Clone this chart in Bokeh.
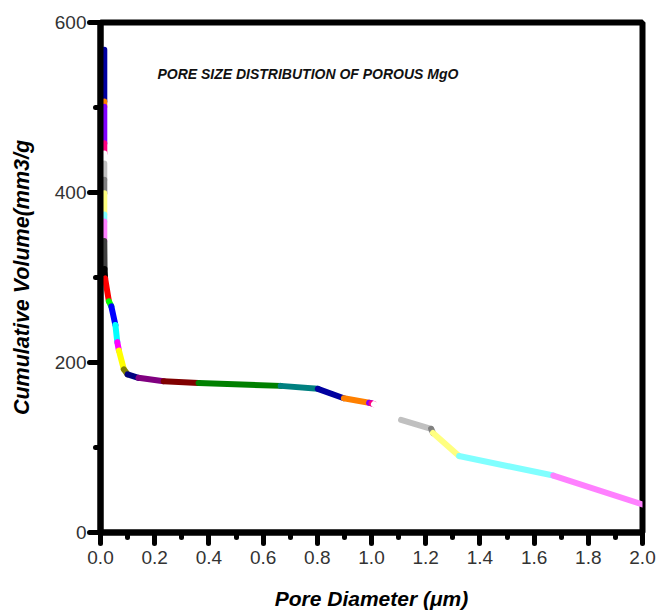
from bokeh.plotting import figure
from bokeh.models import Range1d, SingleIntervalTicker, PrintfTickFormatter, Label, ColumnDataSource
from bokeh.embed import file_html
from bokeh.resources import INLINE

# Data (pore diameter in um, cumulative volume in mm3/g)
pore_diameter = [0.014, 0.014, 0.014, 0.014, 0.014, 0.014, 0.014, 0.014, 0.014, 0.014,
                 0.014, 0.015, 0.017, 0.031, 0.040, 0.055, 0.062, 0.068, 0.086, 0.100,
                 0.140, 0.233, 0.362, 0.665, 0.802, 0.898, 0.991, 1.000, 1.009, 1.109,
                 1.220, 1.227, 1.323, 1.671, 2.000]
cumulative_volume = [568, 507, 501, 458, 446, 434, 415, 399, 374, 366,
                     343, 310, 299, 272, 266, 244, 224, 214, 192, 186,
                     182, 178, 176, 172.5, 169, 158, 152.6, 152, 151, 132.6,
                     122, 117, 90, 67, 33]

# Origin default colour cycle
origin_palette = ["#000000", "#FF0000", "#00FF00", "#0000FF", "#00FFFF", "#FF00FF",
                  "#FFFF00", "#808000", "#000080", "#800080", "#800000", "#008000",
                  "#008080", "#0000A0", "#FF8000", "#8000FF", "#FF0080", "#FFFFFF",
                  "#C0C0C0", "#808080", "#FFFF80", "#80FFFF", "#FF80FF", "#404040"]
start_color = 13

x_label = "Pore Diameter (\u03bcm)"
y_label = "Cumulative Volume(mm3/g"
chart_note = "PORE SIZE DISTRIBUTION OF POROUS MgO"

n = len(pore_diameter)
src = ColumnDataSource(dict(
    x0=pore_diameter[:-1], y0=cumulative_volume[:-1],
    x1=pore_diameter[1:], y1=cumulative_volume[1:],
    color=[origin_palette[(start_color + i) % len(origin_palette)] for i in range(n - 1)],
))

p = figure(width=657, height=614, output_backend="svg", toolbar_location=None,
           x_range=Range1d(0, 2.0), y_range=Range1d(0, 600),
           min_border_left=100, min_border_right=15, min_border_top=22, min_border_bottom=82)
p.xgrid.visible = False
p.ygrid.visible = False
p.background_fill_color = "white"
p.border_fill_color = "white"
p.outline_line_color = "black"
p.outline_line_width = 6
p.outline_line_alpha = 1.0

p.segment(x0="x0", y0="y0", x1="x1", y1="y1", line_color="color", line_width=6,
          line_cap="round", source=src)

p.xaxis.ticker = SingleIntervalTicker(interval=0.2, num_minor_ticks=2)
p.yaxis.ticker = SingleIntervalTicker(interval=200, num_minor_ticks=2)
p.xaxis.formatter = PrintfTickFormatter(format="%.1f")
p.yaxis.formatter = PrintfTickFormatter(format="%d")

for ax in (p.xaxis[0], p.yaxis[0]):
    ax.axis_line_width = 6
    ax.axis_line_color = "black"
    ax.major_tick_line_width = 5
    ax.major_tick_line_color = "black"
    ax.major_tick_out = 11
    ax.major_tick_in = 0
    ax.minor_tick_line_width = 5
    ax.minor_tick_line_color = "black"
    ax.minor_tick_out = 5
    ax.minor_tick_in = 0
    ax.major_tick_line_cap = "round"
    ax.minor_tick_line_cap = "round"
    ax.major_label_text_font = "Liberation Sans"
    ax.major_label_text_font_size = "19px"
    ax.major_label_text_color = "#333333"
    ax.axis_label_text_font = "Liberation Sans"
    ax.axis_label_text_font_style = "bold italic"
    ax.axis_label_text_color = "black"

p.xaxis.axis_label = x_label
p.yaxis.axis_label = y_label
p.xaxis.axis_label_text_font_size = "21px"
p.yaxis.axis_label_text_font_size = "21.5px"
p.xaxis.major_label_standoff = 7
p.yaxis.major_label_standoff = 3
p.xaxis.axis_label_standoff = 20
p.yaxis.axis_label_standoff = 18

note = Label(x=0.21, y=540, text=chart_note, text_font="Liberation Sans",
             text_font_style="bold italic", text_font_size="14px",
             text_baseline="middle", text_color="#111111")
p.add_layout(note)

open("out.html", "w").write(file_html(p, INLINE))
